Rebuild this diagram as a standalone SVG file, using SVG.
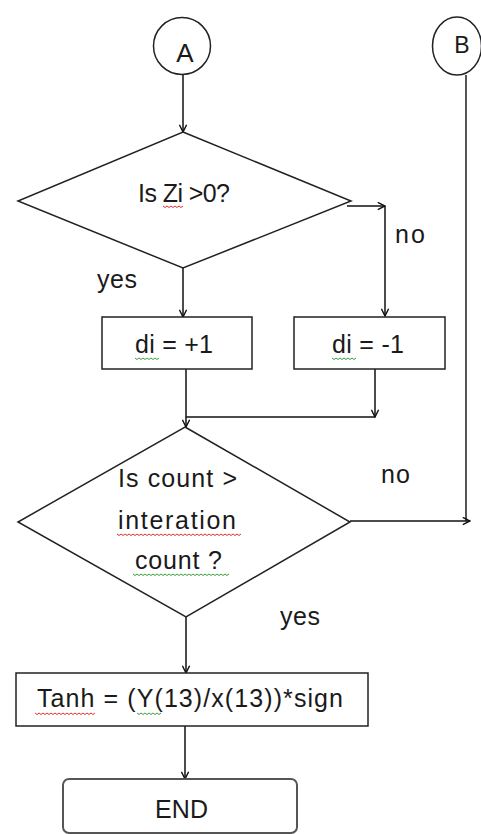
<svg xmlns="http://www.w3.org/2000/svg" width="481" height="834" viewBox="0 0 481 834">
<defs>
<style>
.shape{fill:#fff;stroke:#222;stroke-width:1.5}
.conn{fill:none;stroke:#111;stroke-width:1.5}
.txt{font-family:"Liberation Sans",Arial,sans-serif;font-size:25px;fill:#1a1a1a}
.mid{text-anchor:middle}
.red{fill:none;stroke:#e03030;stroke-width:1}
.grn{fill:none;stroke:#3aa03a;stroke-width:1}
</style>
<marker id="arr" viewBox="0 0 10 10" refX="9" refY="5" markerWidth="9" markerHeight="9" markerUnits="userSpaceOnUse" orient="auto">
<path d="M1,1 L9,5 L1,9" fill="none" stroke="#111" stroke-width="1.6"/>
</marker>
</defs>
<rect width="481" height="834" fill="#fff"/>

<g id="connectors">
<path class="conn" d="M183,75 V132" marker-end="url(#arr)"/>
<path class="conn" d="M347,206 H385" marker-end="url(#arr)"/>
<path class="conn" d="M385,206 V316" marker-end="url(#arr)"/>
<path class="conn" d="M183,268 V317" marker-end="url(#arr)"/>
<path class="conn" d="M186,369 V427" marker-end="url(#arr)"/>
<path class="conn" d="M375,369 V417" marker-end="url(#arr)"/>
<path class="conn" d="M375,417 H186"/>
<path class="conn" d="M466,75 V521" style="stroke:#555;stroke-width:2"/>
<path class="conn" d="M350,521 H470" marker-end="url(#arr)"/>
<path class="conn" d="M186,617 V673" marker-end="url(#arr)"/>
<path class="conn" d="M185,726 V779" marker-end="url(#arr)"/>
</g>

<g id="nodeA">
<circle class="shape" cx="182" cy="46" r="28.5"/>
<text class="txt mid" x="185" y="62" style="font-size:26px">A</text>
</g>

<g id="nodeB">
<ellipse class="shape" cx="457" cy="46" rx="24.5" ry="29"/>
<text class="txt mid" x="462" y="53" style="font-size:23px">B</text>
</g>

<g id="decision1">
<polygon class="shape" points="183,132 351,201 183,268 18,201"/>
<text class="txt" x="138" y="202" textLength="92">Is Zi &gt;0?</text>
<path class="red" d="M163,206 l2,1.5 2,-1.5 2,1.5 2,-1.5 2,1.5 2,-1.5 2,1.5 2,-1.5 2,1.5 2,-1.5"/>
</g>

<text id="label-no1" class="txt" x="395" y="243" textLength="30">no</text>
<text id="label-yes1" class="txt" x="97" y="288" textLength="40">yes</text>

<g id="box-plus">
<rect class="shape" x="102" y="317" width="150" height="52"/>
<text class="txt" x="135" y="353" textLength="78">di = +1</text>
<path class="grn" d="M135,358 l2,1.5 2,-1.5 2,1.5 2,-1.5 2,1.5 2,-1.5 2,1.5 2,-1.5 2,1.5 2,-1.5 2,1.5 2,-1.5"/>
</g>

<g id="box-minus">
<rect class="shape" x="294" y="317" width="151" height="52"/>
<text class="txt" x="332" y="353" textLength="72">di = -1</text>
<path class="grn" d="M332,358 l2,1.5 2,-1.5 2,1.5 2,-1.5 2,1.5 2,-1.5 2,1.5 2,-1.5 2,1.5 2,-1.5 2,1.5 2,-1.5"/>
</g>

<g id="decision2">
<polygon class="shape" points="185,427 350,522 186,617 18,522"/>
<text class="txt" x="118" y="487" textLength="119">Is count &gt;</text>
<text class="txt" x="118" y="529" textLength="118">interation</text>
<text class="txt" x="135" y="569" textLength="87">count ?</text>
<path class="red" d="M117,534 l2,1.5 2,-1.5 2,1.5 2,-1.5 2,1.5 2,-1.5 2,1.5 2,-1.5 2,1.5 2,-1.5 2,1.5 2,-1.5 2,1.5 2,-1.5 2,1.5 2,-1.5 2,1.5 2,-1.5 2,1.5 2,-1.5 2,1.5 2,-1.5 2,1.5 2,-1.5 2,1.5 2,-1.5 2,1.5 2,-1.5 2,1.5 2,-1.5 2,1.5 2,-1.5 2,1.5 2,-1.5 2,1.5 2,-1.5 2,1.5 2,-1.5 2,1.5 2,-1.5 2,1.5 2,-1.5 2,1.5 2,-1.5 2,1.5 2,-1.5 2,1.5 2,-1.5 2,1.5 2,-1.5 2,1.5 2,-1.5 2,1.5 2,-1.5 2,1.5 2,-1.5 2,1.5 2,-1.5 2,1.5 2,-1.5 2,1.5 2,-1.5"/>
<path class="grn" d="M133,574 l2,1.5 2,-1.5 2,1.5 2,-1.5 2,1.5 2,-1.5 2,1.5 2,-1.5 2,1.5 2,-1.5 2,1.5 2,-1.5 2,1.5 2,-1.5 2,1.5 2,-1.5 2,1.5 2,-1.5 2,1.5 2,-1.5 2,1.5 2,-1.5 2,1.5 2,-1.5 2,1.5 2,-1.5 2,1.5 2,-1.5 2,1.5 2,-1.5 2,1.5 2,-1.5 2,1.5 2,-1.5 2,1.5 2,-1.5 2,1.5 2,-1.5 2,1.5 2,-1.5 2,1.5 2,-1.5 2,1.5 2,-1.5 2,1.5 2,-1.5 2,1.5 2,-1.5"/>
</g>

<text id="label-no2" class="txt" x="381" y="483" textLength="29">no</text>
<text id="label-yes2" class="txt" x="280" y="625" textLength="40">yes</text>

<g id="box-tanh">
<rect class="shape" x="16" y="673" width="352" height="53"/>
<text class="txt" x="37" y="707" textLength="306">Tanh = (Y(13)/x(13))*sign</text>
<path class="red" d="M35,713 l2,1.5 2,-1.5 2,1.5 2,-1.5 2,1.5 2,-1.5 2,1.5 2,-1.5 2,1.5 2,-1.5 2,1.5 2,-1.5 2,1.5 2,-1.5 2,1.5 2,-1.5 2,1.5 2,-1.5 2,1.5 2,-1.5 2,1.5 2,-1.5 2,1.5 2,-1.5 2,1.5 2,-1.5 2,1.5 2,-1.5 2,1.5 2,-1.5"/>
<path class="grn" d="M137,713 l2,1.5 2,-1.5 2,1.5 2,-1.5 2,1.5 2,-1.5 2,1.5 2,-1.5 2,1.5 2,-1.5 2,1.5 2,-1.5"/>
</g>

<g id="end">
<rect class="shape" x="63" y="779" width="234" height="54" rx="6" ry="6" style="stroke:#555;stroke-width:2"/>
<text class="txt" x="155" y="818" textLength="53">END</text>
</g>
</svg>
